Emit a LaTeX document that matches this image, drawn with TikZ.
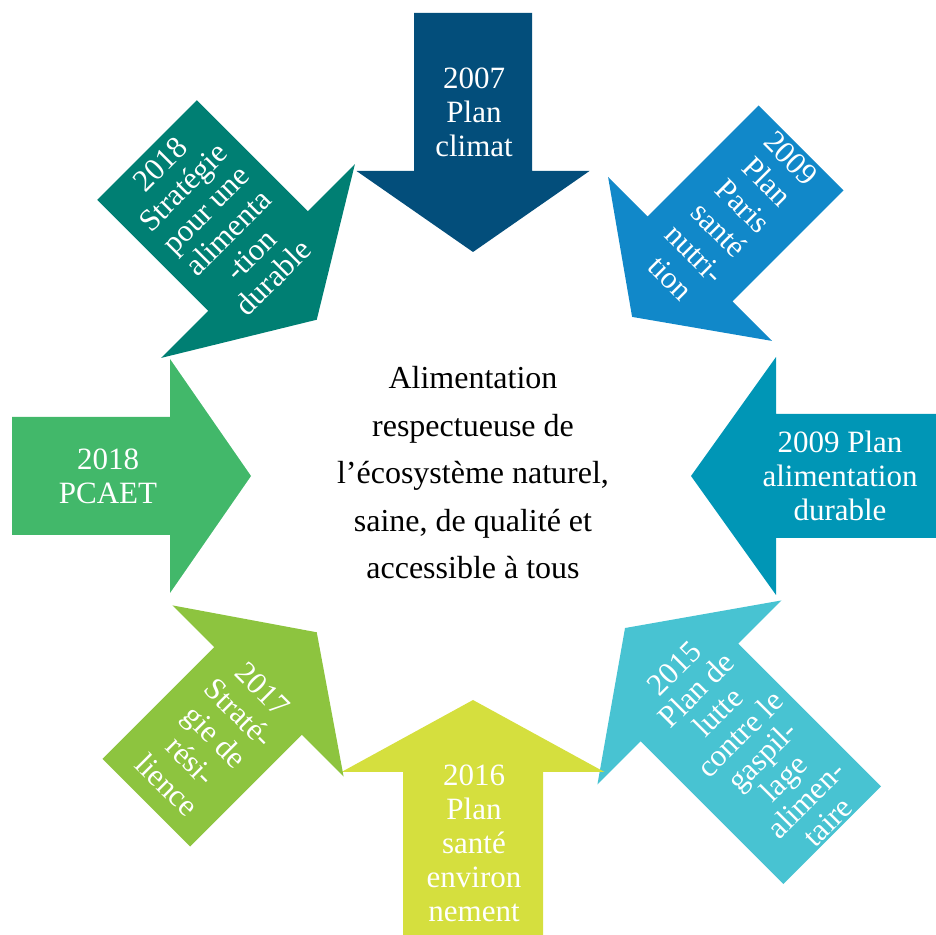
\documentclass[tikz,border=0pt]{standalone}
\usepackage{fontspec}
\setmainfont{Liberation Serif}
\definecolor{azulosc}{HTML}{034E7B}
\definecolor{azulmed}{HTML}{1188C9}
\definecolor{turq}{HTML}{0096B6}
\definecolor{celeste}{HTML}{48C3D2}
\definecolor{lima}{HTML}{D5DF3E}
\definecolor{verdecl}{HTML}{8DC43F}
\definecolor{verde}{HTML}{42B86A}
\definecolor{verdeazul}{HTML}{007F73}

\begin{document}
\begin{tikzpicture}[x=1pt,y=1pt,
  texto/.style={text=white,align=center,inner sep=0pt,font=\fontsize{31}{34}\selectfont},
  centro/.style={align=center,inner sep=0pt,font=\fontsize{32}{47.5}\selectfont}]
  \useasboundingbox (0,0) rectangle (936,934);
  \clip (0,0) rectangle (936,934);
  % Flechas hacia el centro
  \begin{scope}[shift={(473,458)}]
    \fill[azulosc] (0,224) -- (116.5,305) -- (59,305) -- (59,463) -- (-59,463) -- (-59,305) -- (-116.5,305) -- cycle;
    \fill[azulmed,rotate=-45] (0,225) -- (116,307) -- (60,307) -- (60,464) -- (-60,464) -- (-60,307) -- (-116,307) -- cycle;
    \fill[turq,rotate=-90] (0,218) -- (119,303) -- (62,303) -- (62,475) -- (-62,475) -- (-62,303) -- (-119,303) -- cycle;
    \fill[celeste,rotate=-135] (0,215) -- (130,306) -- (69,306) -- (69,508) -- (-69,508) -- (-69,306) -- (-130,306) -- cycle;
    \fill[lima,rotate=180] (0,224) -- (131.5,296) -- (70,296) -- (70,470) -- (-70,470) -- (-70,296) -- (-131.5,296) -- cycle;
    \fill[verdecl,rotate=135] (0,221) -- (121,304) -- (62,304) -- (62,462) -- (-62,462) -- (-62,304) -- (-121,304) -- cycle;
    \fill[verde,rotate=90] (0,222) -- (117,303) -- (59,303) -- (59,461) -- (-59,461) -- (-59,303) -- (-117,303) -- cycle;
    \fill[verdeazul,rotate=45] (0,221) -- (137,304) -- (70.5,304) -- (70.5,461) -- (-70.5,461) -- (-70.5,304) -- (-137,304) -- cycle;
  \end{scope}
  % Textos de las flechas
  \node[texto] (t2007) at (474,822) {2007\\Plan\\climat};
  \node[texto,rotate=-45] (t2009a) at (731,716) {2009\\Plan\\Paris\\santé\\nutri-\\tion};
  \node[texto] (t2009b) at (840,458) {2009 Plan\\alimentation\\durable};
  \node[texto,rotate=45,font=\fontsize{31}{31}\selectfont] (t2015) at (751,189) {2015\\Plan de\\lutte\\contre le\\gaspil-\\lage\\alimen-\\taire};
  \node[texto] (t2016) at (474,91) {2016\\Plan\\santé\\environ\\nement};
  \node[texto,rotate=-45] (t2017) at (215,197) {2017\\Straté-\\gie de\\rési-\\lience};
  \node[texto] (t2018a) at (108,458) {2018\\PCAET};
  \node[texto,rotate=45,font=\fontsize{31}{32}\selectfont] (t2018b) at (217,713) {2018\\Stratégie\\pour une\\alimenta\\-tion\\durable};
  % Texto central
  \node[centro] (meta) at (473,461) {Alimentation\\respectueuse de\\l’écosystème naturel,\\saine, de qualité et\\accessible à tous};
\end{tikzpicture}
\end{document}
